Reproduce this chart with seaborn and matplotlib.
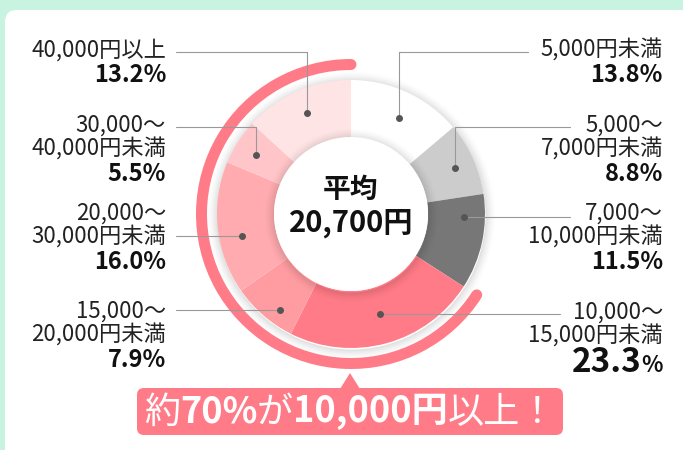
import matplotlib
matplotlib.use("Agg")
import numpy as np
import matplotlib.pyplot as plt
import seaborn as sns
from matplotlib.patches import Arc, Circle, Wedge, FancyBboxPatch, Polygon
from matplotlib.offsetbox import TextArea, HPacker, AnnotationBbox

# データ
ranges = ["5,000円未満", "5,000～\n7,000円未満", "7,000～\n10,000円未満",
          "10,000～\n15,000円未満", "15,000～\n20,000円未満", "20,000～\n30,000円未満",
          "30,000～\n40,000円未満", "40,000円以上"]
shares = [13.8, 8.8, 11.5, 23.3, 7.9, 16.0, 5.5, 13.2]
colors = ["#ffffff", "#cccccc", "#777777", "#ff7b87", "#ff9ca1", "#ffabaf", "#ffc5c8", "#ffe4e5"]
average_label = "20,700円"
callout_parts = [("約", "normal"), ("70%", "bold"), ("が", "normal"),
                 ("10,000円", "bold"), ("以上！", "normal")]
highlight_from = 3  # 10,000円以上

sns.set_theme(style="white")
plt.rcParams['font.family'] = ['Noto Sans CJK JP', 'DejaVu Sans']

W, H = 683, 450
fig = plt.figure(figsize=(W / 100, H / 100), dpi=100)
fig.patch.set_facecolor("#c9f3e1")
ax = fig.add_axes([0, 0, 1, 1])


def Y(py):
    return H - py


pink = "#ff7b87"
cx, cy = 351, Y(214)
R, r = 134, 77

# 白いパネル
ax.add_patch(FancyBboxPatch((5, Y(470)), 720, 460, boxstyle="round,pad=0,rounding_size=12",
                            fc="white", ec="none", zorder=0.1))

# 外側の影
for i in range(10):
    ax.add_patch(Wedge((cx + 0.5, cy - 1.5), R + i + 1, 0, 360, width=1, fc="black",
                       ec="none", alpha=0.12 * (1 - i / 10) ** 1.5, zorder=0.5))

wedges, _ = ax.pie(shares, colors=colors, startangle=90, counterclock=False,
                   radius=R, center=(cx, cy),
                   wedgeprops=dict(width=R - r, edgecolor="none", linewidth=0))

# 内側の影と中央の円
for i in range(10):
    ax.add_patch(Wedge((cx + 0.5, cy - 1.5), r + i + 1, 0, 360, width=1, fc="black",
                       ec="none", alpha=0.12 * (1 - i / 10) ** 1.5, zorder=3))
ax.add_patch(Circle((cx, cy), r, fc="white", ec="none", zorder=4))

ax.text(cx, Y(190), "平均", ha="center", va="center", fontsize=20, fontweight="bold",
        color="#111111", zorder=5)
ax.text(cx, Y(223), average_label, ha="center", va="center", fontsize=21, fontweight="bold",
        color="#111111", zorder=5)

# 10,000円以上の弧
cum = np.concatenate([[0], np.cumsum(shares)])
start_deg = cum[highlight_from] / cum[-1] * 360
ra = 149.5
ax.add_patch(Arc((cx, cy), 2 * ra, 2 * ra, theta1=90 - 360, theta2=90 - start_deg,
                 lw=11 * 0.72, color=pink, capstyle="round", zorder=2))

# ラベル配置
side = ["R", "R", "R", "R", "L", "L", "L", "L"]
text_y = [50, 125, 213, 312, 311, 213, 125, 50]
elbow = [True, True, False, False, False, False, True, True]
line_x = [528, 570, 570, 560, 176, 176, 176, 176]
nudge = [1.8, 0.5, -10.6, -0.7, -4.4, -5.3, -0.8, 0.3]
rd = [107, 114, 113, 104, 119, 111, 112, 110]
gap = 24

for i, lab in enumerate(ranges):
    mid = (cum[i] + shares[i] / 2) / cum[-1] * 360 + nudge[i]
    dx = cx + rd[i] * np.sin(np.radians(mid))
    dy = cy + rd[i] * np.cos(np.radians(mid))
    if elbow[i]:
        ly = Y(text_y[i] + 2)
        ax.plot([line_x[i], dx, dx], [ly, ly, dy], color="#999999", lw=0.8, zorder=6)
    else:
        ax.plot([line_x[i], dx], [dy, dy], color="#999999", lw=0.8, zorder=6)
    ax.plot(dx, dy, "o", ms=4, color="#555555", zorder=7)

    tx = 663 if side[i] == "R" else 166
    lines = lab.split("\n")
    for k, ln in enumerate(lines):
        ax.text(tx, Y(text_y[i] + k * gap), ln, ha="right", va="center", fontsize=16,
                color="#222222", zorder=6)
    py = text_y[i] + len(lines) * gap + 1
    if i == highlight_from:
        pk = HPacker(children=[
            TextArea(f"{shares[i]:.1f}", textprops=dict(fontsize=24, fontweight="bold", color="#111111")),
            TextArea("%", textprops=dict(fontsize=16, fontweight="bold", color="#111111"))],
            align="baseline", pad=0, sep=0)
        ax.add_artist(AnnotationBbox(pk, (tx, Y(py + 1)), xycoords="data", box_alignment=(1, 0.5),
                                     frameon=False, pad=0, zorder=6))
    else:
        ax.text(tx, Y(py), f"{shares[i]:.1f}%", ha="right", va="center", fontsize=17,
                fontweight="bold", color="#111111", zorder=6)

# 吹き出し
ax.add_patch(FancyBboxPatch((137, Y(435)), 426, 47, boxstyle="round,pad=0,rounding_size=7",
                            fc=pink, ec="none", zorder=6))
ax.add_patch(Polygon([(340, Y(389)), (360, Y(389)), (350, Y(373))], closed=True,
                     fc=pink, ec="none", zorder=6))
pk = HPacker(children=[TextArea(t, textprops=dict(fontsize=26, fontweight=w, color="white"))
                       for t, w in callout_parts], align="baseline", pad=0, sep=0)
ax.add_artist(AnnotationBbox(pk, (350, Y(412)), xycoords="data", box_alignment=(0.5, 0.5),
                             frameon=False, pad=0, zorder=7))

ax.set_xlim(0, W)
ax.set_ylim(0, H)
ax.set_aspect("equal")
ax.axis("off")
fig.savefig("out.png", dpi=100, facecolor=fig.get_facecolor())
